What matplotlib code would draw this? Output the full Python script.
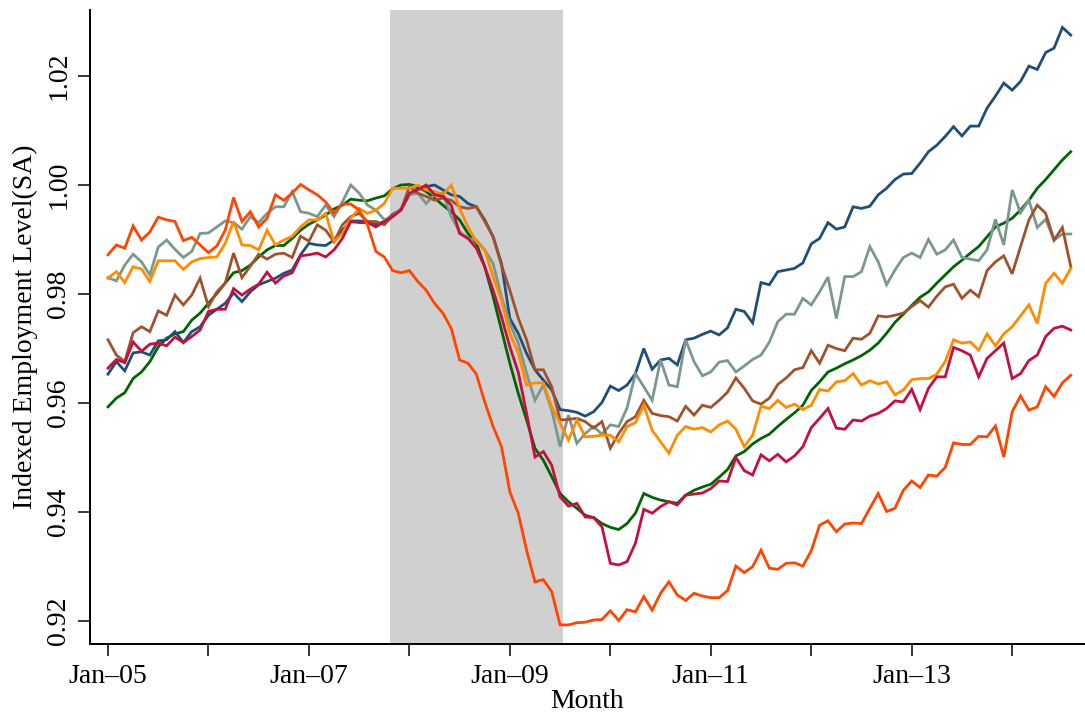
import numpy as np
import matplotlib
matplotlib.use('Agg')
import matplotlib.pyplot as plt

plt.rcParams['font.family'] = ['Liberation Serif', 'DejaVu Serif']

# indexed employment levels, monthly from Jan 2005
blue = [0.9653, 0.9676, 0.9659, 0.9692, 0.9694, 0.9688, 0.9714, 0.9716, 0.9731, 0.9711,
        0.9731, 0.9740, 0.9761, 0.9772, 0.9783, 0.9802, 0.9786, 0.9804, 0.9817, 0.9823,
        0.9829, 0.9838, 0.9844, 0.9872, 0.9893, 0.9890, 0.9889, 0.9899, 0.9917, 0.9934,
        0.9934, 0.9933, 0.9927, 0.9933, 0.9946, 0.9955, 0.9982, 0.9994, 0.9997, 1.0000,
        0.9991, 0.9982, 0.9979, 0.9966, 0.9960, 0.9936, 0.9905, 0.9856, 0.9755, 0.9728,
        0.9691, 0.9661, 0.9642, 0.9624, 0.9588, 0.9586, 0.9583, 0.9576, 0.9584, 0.9601,
        0.9631, 0.9623, 0.9633, 0.9654, 0.9700, 0.9662, 0.9679, 0.9682, 0.9670, 0.9716,
        0.9719, 0.9726, 0.9732, 0.9725, 0.9738, 0.9772, 0.9768, 0.9747, 0.9821, 0.9817,
        0.9841, 0.9844, 0.9847, 0.9857, 0.9892, 0.9902, 0.9931, 0.9919, 0.9923, 0.9960,
        0.9957, 0.9961, 0.9982, 0.9994, 1.0010, 1.0020, 1.0021, 1.0040, 1.0061, 1.0073,
        1.0089, 1.0107, 1.0090, 1.0108, 1.0108, 1.0141, 1.0163, 1.0187, 1.0174, 1.0190,
        1.0218, 1.0212, 1.0243, 1.0251, 1.0289, 1.0275]

grey = [0.9830, 0.9824, 0.9853, 0.9873, 0.9859, 0.9835, 0.9886, 0.9899, 0.9882, 0.9867,
        0.9878, 0.9911, 0.9912, 0.9923, 0.9934, 0.9931, 0.9919, 0.9942, 0.9931, 0.9948,
        0.9960, 0.9960, 0.9988, 0.9951, 0.9948, 0.9942, 0.9963, 0.9942, 0.9969, 1.0000,
        0.9985, 0.9963, 0.9954, 0.9936, 0.9943, 0.9957, 0.9982, 0.9985, 0.9966, 0.9982,
        0.9985, 0.9942, 0.9914, 0.9902, 0.9899, 0.9881, 0.9856, 0.9795, 0.9746, 0.9710,
        0.9655, 0.9605, 0.9633, 0.9587, 0.9520, 0.9578, 0.9526, 0.9544, 0.9557, 0.9543,
        0.9560, 0.9557, 0.9591, 0.9654, 0.9630, 0.9605, 0.9679, 0.9633, 0.9630, 0.9716,
        0.9676, 0.9650, 0.9657, 0.9675, 0.9678, 0.9657, 0.9668, 0.9680, 0.9688, 0.9712,
        0.9749, 0.9763, 0.9763, 0.9792, 0.9780, 0.9804, 0.9831, 0.9755, 0.9832, 0.9832,
        0.9841, 0.9887, 0.9859, 0.9817, 0.9844, 0.9867, 0.9875, 0.9867, 0.9900, 0.9873,
        0.9881, 0.9899, 0.9867, 0.9864, 0.9861, 0.9881, 0.9937, 0.9890, 0.9991, 0.9949,
        0.9972, 0.9922, 0.9937, 0.9899, 0.9910, 0.9910]

green = [0.9593, 0.9609, 0.9619, 0.9645, 0.9657, 0.9676, 0.9703, 0.9719, 0.9727, 0.9731,
         0.9752, 0.9765, 0.9783, 0.9801, 0.9820, 0.9839, 0.9843, 0.9853, 0.9868, 0.9881,
         0.9889, 0.9889, 0.9902, 0.9917, 0.9928, 0.9936, 0.9945, 0.9956, 0.9963, 0.9974,
         0.9972, 0.9971, 0.9976, 0.9980, 0.9993, 1.0000, 1.0001, 0.9997, 0.9988, 0.9976,
         0.9963, 0.9951, 0.9936, 0.9911, 0.9893, 0.9850, 0.9795, 0.9734, 0.9673, 0.9618,
         0.9569, 0.9517, 0.9495, 0.9465, 0.9434, 0.9419, 0.9407, 0.9394, 0.9390, 0.9379,
         0.9372, 0.9368, 0.9379, 0.9398, 0.9434, 0.9427, 0.9422, 0.9419, 0.9416, 0.9431,
         0.9440, 0.9446, 0.9451, 0.9464, 0.9478, 0.9503, 0.9511, 0.9525, 0.9535, 0.9543,
         0.9557, 0.9570, 0.9582, 0.9596, 0.9623, 0.9639, 0.9657, 0.9664, 0.9672, 0.9679,
         0.9687, 0.9697, 0.9710, 0.9728, 0.9748, 0.9763, 0.9779, 0.9794, 0.9804, 0.9820,
         0.9835, 0.9850, 0.9862, 0.9875, 0.9887, 0.9905, 0.9923, 0.9930, 0.9939, 0.9954,
         0.9972, 0.9994, 1.0010, 1.0028, 1.0046, 1.0061]

brown = [0.9716, 0.9688, 0.9676, 0.9729, 0.9740, 0.9731, 0.9769, 0.9761, 0.9798, 0.9780,
         0.9798, 0.9829, 0.9777, 0.9804, 0.9820, 0.9875, 0.9830, 0.9851, 0.9873, 0.9864,
         0.9873, 0.9875, 0.9867, 0.9906, 0.9897, 0.9927, 0.9917, 0.9896, 0.9927, 0.9942,
         0.9948, 0.9933, 0.9933, 0.9927, 0.9943, 0.9954, 0.9997, 0.9985, 0.9979, 0.9972,
         0.9976, 0.9972, 0.9960, 0.9957, 0.9960, 0.9933, 0.9905, 0.9853, 0.9807, 0.9756,
         0.9716, 0.9661, 0.9661, 0.9630, 0.9569, 0.9570, 0.9572, 0.9566, 0.9554, 0.9566,
         0.9517, 0.9544, 0.9566, 0.9575, 0.9605, 0.9581, 0.9577, 0.9575, 0.9567, 0.9594,
         0.9578, 0.9596, 0.9592, 0.9605, 0.9620, 0.9646, 0.9627, 0.9604, 0.9598, 0.9609,
         0.9634, 0.9646, 0.9661, 0.9665, 0.9696, 0.9673, 0.9706, 0.9700, 0.9696, 0.9719,
         0.9717, 0.9728, 0.9760, 0.9758, 0.9761, 0.9765, 0.9777, 0.9788, 0.9776, 0.9796,
         0.9813, 0.9818, 0.9792, 0.9807, 0.9795, 0.9843, 0.9859, 0.9870, 0.9837, 0.9887,
         0.9936, 0.9963, 0.9948, 0.9899, 0.9922, 0.9850]

orange = [0.9829, 0.9841, 0.9821, 0.9850, 0.9846, 0.9823, 0.9861, 0.9861, 0.9861, 0.9845,
          0.9859, 0.9865, 0.9867, 0.9868, 0.9893, 0.9933, 0.9890, 0.9889, 0.9881, 0.9917,
          0.9890, 0.9899, 0.9906, 0.9923, 0.9936, 0.9936, 0.9948, 0.9896, 0.9911, 0.9939,
          0.9957, 0.9948, 0.9954, 0.9966, 0.9994, 0.9994, 0.9994, 1.0000, 0.9991, 0.9988,
          0.9982, 1.0000, 0.9957, 0.9923, 0.9896, 0.9881, 0.9832, 0.9789, 0.9728, 0.9692,
          0.9633, 0.9637, 0.9637, 0.9593, 0.9563, 0.9532, 0.9569, 0.9538, 0.9539, 0.9541,
          0.9541, 0.9529, 0.9557, 0.9564, 0.9596, 0.9550, 0.9529, 0.9508, 0.9541, 0.9557,
          0.9552, 0.9555, 0.9547, 0.9560, 0.9567, 0.9552, 0.9520, 0.9541, 0.9594, 0.9590,
          0.9605, 0.9592, 0.9598, 0.9588, 0.9596, 0.9625, 0.9622, 0.9639, 0.9641, 0.9654,
          0.9633, 0.9641, 0.9635, 0.9639, 0.9615, 0.9624, 0.9643, 0.9645, 0.9645, 0.9653,
          0.9676, 0.9716, 0.9710, 0.9712, 0.9697, 0.9727, 0.9705, 0.9727, 0.9740, 0.9760,
          0.9780, 0.9746, 0.9820, 0.9838, 0.9820, 0.9847]

crimson = [0.9664, 0.9680, 0.9674, 0.9712, 0.9695, 0.9708, 0.9710, 0.9705, 0.9721, 0.9711,
           0.9722, 0.9734, 0.9768, 0.9772, 0.9772, 0.9810, 0.9798, 0.9809, 0.9818, 0.9840,
           0.9820, 0.9833, 0.9839, 0.9870, 0.9872, 0.9875, 0.9868, 0.9881, 0.9902, 0.9933,
           0.9931, 0.9931, 0.9923, 0.9933, 0.9942, 0.9954, 0.9985, 0.9991, 1.0000, 0.9982,
           0.9979, 0.9963, 0.9911, 0.9902, 0.9884, 0.9850, 0.9807, 0.9758, 0.9703, 0.9657,
           0.9581, 0.9501, 0.9511, 0.9486, 0.9428, 0.9411, 0.9416, 0.9391, 0.9390, 0.9373,
           0.9306, 0.9303, 0.9309, 0.9343, 0.9405, 0.9398, 0.9410, 0.9419, 0.9413, 0.9431,
           0.9433, 0.9435, 0.9443, 0.9457, 0.9456, 0.9500, 0.9476, 0.9468, 0.9505, 0.9494,
           0.9506, 0.9492, 0.9503, 0.9520, 0.9555, 0.9572, 0.9590, 0.9554, 0.9552, 0.9569,
           0.9567, 0.9576, 0.9581, 0.9590, 0.9604, 0.9602, 0.9625, 0.9588, 0.9627, 0.9648,
           0.9648, 0.9702, 0.9696, 0.9688, 0.9648, 0.9682, 0.9696, 0.9710, 0.9645, 0.9654,
           0.9678, 0.9688, 0.9722, 0.9737, 0.9741, 0.9734]

orangered = [0.9872, 0.9890, 0.9884, 0.9925, 0.9899, 0.9914, 0.9941, 0.9936, 0.9933, 0.9898,
             0.9904, 0.9890, 0.9876, 0.9888, 0.9917, 0.9977, 0.9933, 0.9951, 0.9923, 0.9939,
             0.9982, 0.9972, 0.9985, 1.0001, 0.9991, 0.9982, 0.9969, 0.9948, 0.9965, 0.9965,
             0.9954, 0.9927, 0.9878, 0.9868, 0.9843, 0.9839, 0.9843, 0.9823, 0.9807, 0.9783,
             0.9765, 0.9737, 0.9679, 0.9673, 0.9653, 0.9602, 0.9557, 0.9520, 0.9437, 0.9398,
             0.9330, 0.9272, 0.9276, 0.9254, 0.9193, 0.9193, 0.9197, 0.9198, 0.9202, 0.9203,
             0.9219, 0.9201, 0.9221, 0.9217, 0.9245, 0.9220, 0.9251, 0.9272, 0.9248, 0.9238,
             0.9251, 0.9246, 0.9243, 0.9243, 0.9256, 0.9301, 0.9289, 0.9300, 0.9330, 0.9297,
             0.9295, 0.9306, 0.9307, 0.9301, 0.9329, 0.9376, 0.9384, 0.9364, 0.9378, 0.9380,
             0.9379, 0.9407, 0.9434, 0.9401, 0.9407, 0.9440, 0.9457, 0.9445, 0.9468, 0.9466,
             0.9482, 0.9527, 0.9524, 0.9524, 0.9539, 0.9538, 0.9558, 0.9501, 0.9584, 0.9613,
             0.9587, 0.9593, 0.9630, 0.9612, 0.9637, 0.9651]

# recession band, in months since Jan 2005
rec_start = 33.7
rec_end = 54.3

tick_months = [0, 12, 24, 36, 48, 60, 72, 84, 96, 108]
tick_labels = ['Jan\u201305', '', 'Jan\u201307', '', 'Jan\u201309', '',
               'Jan\u201311', '', 'Jan\u201313', '']
y_ticks = [0.92, 0.94, 0.96, 0.98, 1.00, 1.02]

series = [(green, '#006400'), (blue, '#1f4e79'), (grey, '#7b988c'),
          (brown, '#a0522d'), (orange, '#ff8c00'), (crimson, '#c4103f'),
          (orangered, '#ff4500')]

fig = plt.figure(figsize=(10.85, 7.17), dpi=100)
ax = fig.add_axes([90 / 1085, 73 / 717, 995 / 1085, 634 / 717])

ax.axvspan(rec_start, rec_end, color='#d0d0d0', lw=0, zorder=0)

for vals, col in series:
    m = np.arange(len(vals))
    ax.plot(m, vals, color=col, lw=2.0, solid_joinstyle='miter')

ax.set_xlim(-2.15, 116.7)
ax.set_ylim(0.9158, 1.0321)

ax.set_xticks(tick_months)
ax.set_xticklabels(tick_labels)
ax.set_yticks(y_ticks)
ax.set_yticklabels(['%.2f' % v for v in y_ticks])

ax.spines['top'].set_visible(False)
ax.spines['right'].set_visible(False)
for s in ['left', 'bottom']:
    ax.spines[s].set_linewidth(1.4)

ax.tick_params(axis='both', direction='out', length=8.5, width=1.1,
               labelsize=20, colors='black')
ax.tick_params(axis='x', pad=6)
ax.tick_params(axis='y', pad=5, labelrotation=90)
for lab in ax.get_yticklabels():
    lab.set_va('center')

ax.set_xlabel('Month', fontsize=20, labelpad=0)
ax.set_ylabel('Indexed Employment Level(SA)', fontsize=20, labelpad=6)

fig.savefig('out.png', dpi=100)
